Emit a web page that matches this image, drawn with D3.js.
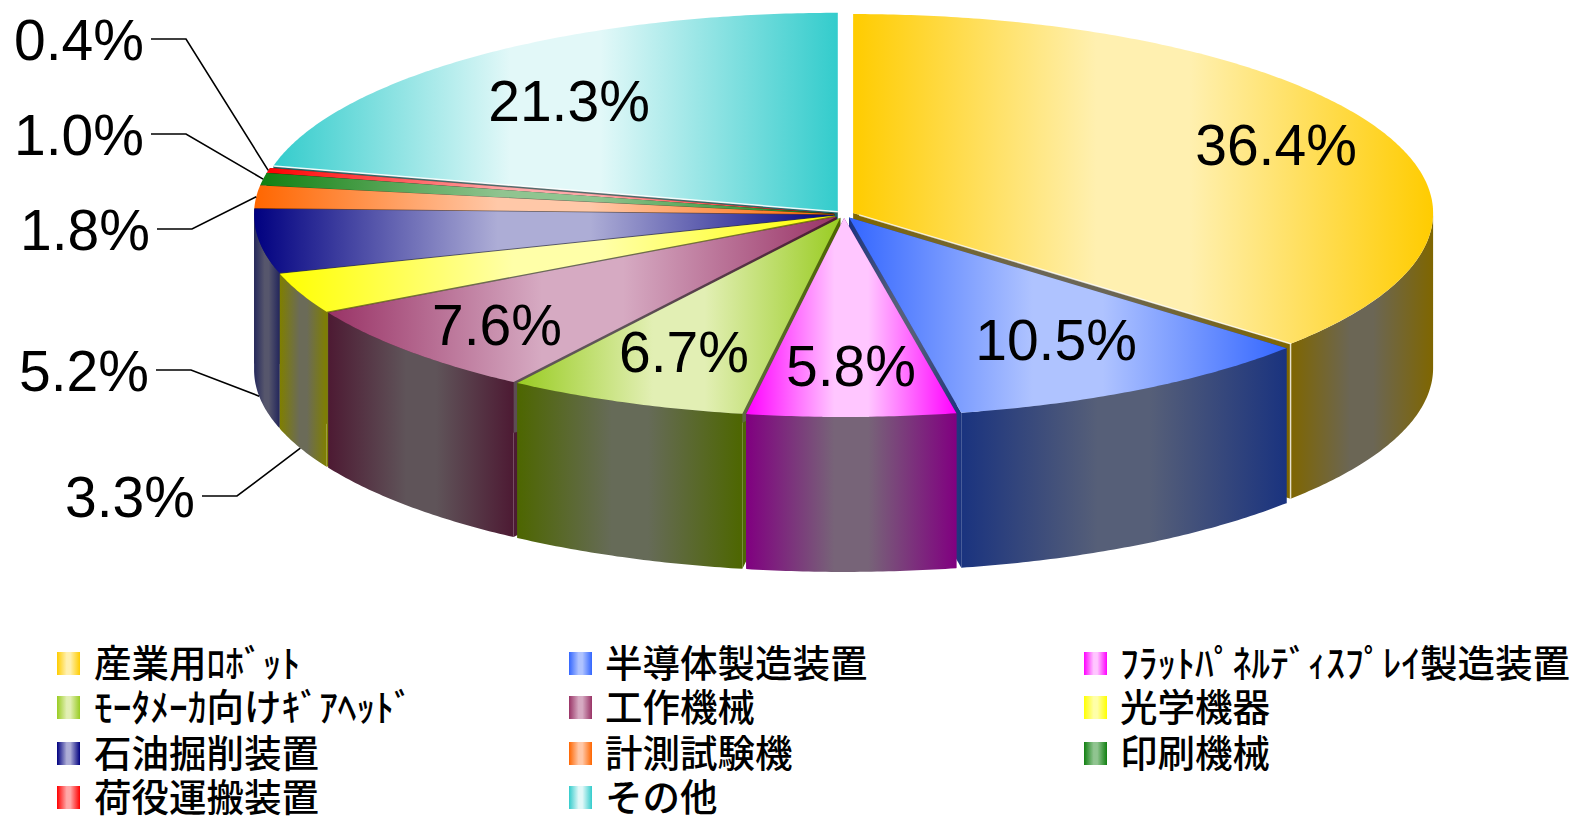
<!DOCTYPE html>
<html>
<head>
<meta charset="utf-8">
<script src="https://cdn.jsdelivr.net/npm/d3@7"></script>
<style>
  html, body { margin: 0; background: #fff; }
  svg { display: block; }
  .value { font-family: "Liberation Sans", Arial, sans-serif; font-size: 57px; fill: #000; text-anchor: middle; }
  .legend-text { font-family: "Noto Sans CJK JP", sans-serif; font-size: 37.5px; font-weight: 500; fill: #000; }
  .leader { fill: none; stroke: #000; stroke-width: 1.6; }
</style>
</head>
<body>
<svg id="chart" width="1575" height="816"></svg>
<script>
const categories = ['産業用ﾛﾎﾞｯﾄ', '半導体製造装置', 'ﾌﾗｯﾄﾊﾟﾈﾙﾃﾞｨｽﾌﾟﾚｲ製造装置', 'ﾓｰﾀﾒｰｶ向けｷﾞｱﾍｯﾄﾞ',
  '工作機械', '光学機器', '石油掘削装置', '計測試験機', '印刷機械', '荷役運搬装置', 'その他'];
const shares = [36.4, 10.5, 5.8, 6.7, 7.6, 3.3, 5.2, 1.8, 1.0, 0.4, 21.3];

// top face and side wall colours, edge and middle of the gradient
const topEdge = ['#ffcc00', '#3366ff', '#ff00ff', '#99cc22', '#993366', '#ffff00', '#000080', '#ff6600', '#118011', '#ff0000', '#33cccc'];
const topMid = ['#fff0b0', '#afc3ff', '#ffc6ff', '#e2efb4', '#d6aac2', '#ffffa8', '#adadd6', '#ffc8a8', '#90c490', '#ffa8a8', '#e2f8f8'];
const wallEdge = ['#7f6600', '#1a337f', '#800080', '#4d6600', '#4d1a33', '#7f7f00', '#25285c', '#7f3300', '#004000', '#7f0000', '#1a6666'];
const wallMid = ['#6b6655', '#565f78', '#776478', '#666b58', '#5f5459', '#6b6b58', '#56566c', '#6b5c55', '#556b55', '#6b5555', '#556b6b'];

// label placement, px
const labelX = [1276, 1056, 851, 684, 497, 130, 84, 85, 79, 79, 569];
const labelY = [165, 360, 386, 372, 345, 517, 391, 250, 155, 60, 121];
const outsideLabels = [5, 6, 7, 8, 9];

const cx = 844, cy = 214.5, rx = 580, ry = 199, depth = 155, explode = 10;

const svg = d3.select('#chart');
const defs = svg.append('defs');

function addGradient(id, edge, mid) {
  const g = defs.append('linearGradient').attr('id', id);
  [[0, edge], [42, mid], [58, mid], [100, edge]].forEach(([o, c]) => {
    g.append('stop').attr('offset', `${o}%`).attr('stop-color', c);
  });
}
categories.forEach((c, i) => {
  addGradient(`top${i}`, topEdge[i], topMid[i]);
  addGradient(`wall${i}`, wallEdge[i], wallMid[i]);
});

const slices = d3.pie().sort(null)(shares).map(d => {
  const mid = (d.startAngle + d.endAngle) / 2;
  return {
    i: d.index,
    a0: d.startAngle,
    a1: d.endAngle,
    mid,
    ox: cx + explode * Math.sin(mid),
    oy: cy - explode * (ry / rx) * Math.cos(mid)
  };
});

// point on the ellipse of a slice, drop moves it down the wall
const pt = (s, a, drop = 0) => [s.ox + rx * Math.sin(a), s.oy - ry * Math.cos(a) + drop];
const line = d3.line();
const sample = (a0, a1) => {
  const n = Math.max(2, Math.ceil((a1 - a0) / 0.01));
  return d3.range(n + 1).map(k => a0 + (a1 - a0) * k / n);
};

const draw = svg.append('g');
// back slices first
slices.slice().sort((a, b) => d3.ascending(-Math.cos(a.mid), -Math.cos(b.mid))).forEach(s => {
  const g = draw.append('g');
  const wallFill = `url(#wall${s.i})`;
  const apex = [s.ox, s.oy];
  [s.a0, s.a1].forEach(a => {
    const p = pt(s, a);
    if (Math.abs(p[0] - s.ox) < 1) return;
    g.append('path')
      .attr('d', line([apex, p, [p[0], p[1] + depth], [s.ox, s.oy + depth]]) + 'Z')
      .attr('fill', wallFill);
  });
  const w0 = Math.max(s.a0, Math.PI / 2), w1 = Math.min(s.a1, Math.PI * 1.5);
  if (w1 > w0) {
    const as = sample(w0, w1);
    const pts = as.map(a => pt(s, a)).concat(as.slice().reverse().map(a => pt(s, a, depth)));
    g.append('path').attr('d', line(pts) + 'Z').attr('fill', wallFill);
  }
  const topPts = [apex].concat(sample(s.a0, s.a1).map(a => pt(s, a)));
  g.append('path').attr('d', line(topPts) + 'Z').attr('fill', `url(#top${s.i})`);
});

// pale rim on the two big back slices
const rim = svg.append('g').attr('fill', 'none').attr('stroke', '#fff').attr('stroke-width', 1.5);
const first = slices[0], last = slices[slices.length - 1];
rim.append('path').attr('d', line([[last.ox, last.oy], pt(last, last.a0)])).attr('stroke-opacity', 0.9);
rim.append('path').attr('d', line([[first.ox + 6, first.oy + 2], pt(first, first.a1), pt(first, first.a1, depth)])).attr('stroke-opacity', 0.75);

// values
svg.append('g').selectAll('text').data(slices).join('text')
  .attr('class', 'value')
  .attr('x', d => labelX[d.i])
  .attr('y', d => labelY[d.i])
  .text(d => `${shares[d.i].toFixed(1)}%`);

// leader lines for the thin slices
svg.append('g').selectAll('path').data(outsideLabels).join('path')
  .attr('class', 'leader')
  .attr('d', i => {
    const s = slices[i];
    const onWall = Math.sin(s.mid) < 0 && Math.cos(s.mid) < 0;
    const end = pt(s, s.mid, onWall ? depth : 0);
    const startX = labelX[i] + 72, y = labelY[i] - 21;
    return line([[startX, y], [startX + 35, y], end]);
  });

// legend
const rowY = [663.5, 707.5, 753.5, 797.5];
const legend = svg.append('g').selectAll('g').data(categories).join('g')
  .attr('transform', (d, i) => `translate(${[57, 569, 1084][i % 3]},${rowY[Math.floor(i / 3)]})`);
legend.append('rect')
  .attr('y', -11.5).attr('width', 23).attr('height', 23)
  .attr('fill', (d, i) => `url(#top${i})`);
legend.append('text')
  .attr('class', 'legend-text')
  .attr('x', (d, i) => [37, 36, 36][i % 3])
  .attr('y', 13)
  .text(d => d);
</script>
</body>
</html>
